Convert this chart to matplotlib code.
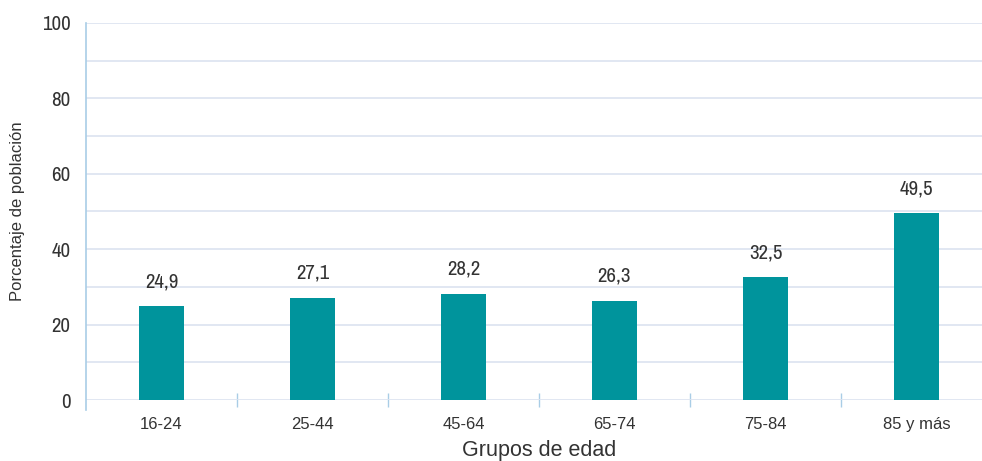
import matplotlib.pyplot as plt
import numpy as np
from matplotlib import font_manager
from matplotlib.lines import Line2D

grupos = ["16-24", "25-44", "45-64", "65-74", "75-84", "85 y más"]
porcentaje = [24.9, 27.1, 28.2, 26.3, 32.5, 49.5]
etiquetas = ["24,9", "27,1", "28,2", "26,3", "32,5", "49,5"]

# buscar una fuente estrecha si existe
nombres = sorted({f.name for f in font_manager.fontManager.ttflist})
estrechas = [n for n in nombres if "Narrow" in n or "Condensed" in n]
narrow = (estrechas[:1] or ["Liberation Sans"]) + ["DejaVu Sans"]
normal = ["Liberation Sans", "DejaVu Sans"]

texto = "#333333"
eje = "#a9cde6"
rejilla = "#dce3f0"

fig = plt.figure(figsize=(9.82, 4.61), dpi=100)
ax = fig.add_axes([86 / 982, 1 - 400 / 461, 906 / 982, 377 / 461])

x = np.arange(len(grupos))
ax.bar(x, porcentaje, width=0.30, color="#00949c", zorder=3)
for xi, yi, lab in zip(x, porcentaje, etiquetas):
    ax.text(xi, yi + 4.0, lab, ha="center", va="bottom", fontsize=15,
            family=narrow, color=texto)

ax.set_xlim(-0.5, len(grupos) - 0.5)
ax.set_ylim(0, 100)
ax.set_yticks(np.arange(0, 101, 20))
ax.set_yticks(np.arange(0, 101, 10), minor=True)
ax.grid(axis="y", which="both", color=rejilla, linewidth=1.2, zorder=0)
ax.set_axisbelow(True)

ax.set_xticks(x)
ax.set_xticklabels(grupos, fontsize=12, color=texto, family=normal)
ax.set_xticks(np.arange(0.5, len(grupos) - 1, 1), minor=True)
ax.tick_params(axis="x", which="major", length=0, pad=12)
ax.tick_params(axis="x", which="minor", direction="inout", length=10,
               color=eje, width=1)
ax.tick_params(axis="y", which="both", length=0, pad=11)
for t in ax.get_yticklabels():
    t.set_family(narrow)
    t.set_fontsize(15)
    t.set_color(texto)

for s in ["top", "right", "bottom", "left"]:
    ax.spines[s].set_visible(False)
ax.add_line(Line2D([0, 0], [-0.027, 1], transform=ax.transAxes, color=eje,
                   linewidth=1.2, clip_on=False))

ax.set_xlabel("Grupos de edad", fontsize=15.5, color=texto, labelpad=6,
              family=normal)
fig.text(18 / 982, 1 - 211 / 461, "Porcentaje de población", rotation=90,
         ha="center", va="center", fontsize=12, color=texto, family=normal)

fig.savefig("out.png", dpi=100)
